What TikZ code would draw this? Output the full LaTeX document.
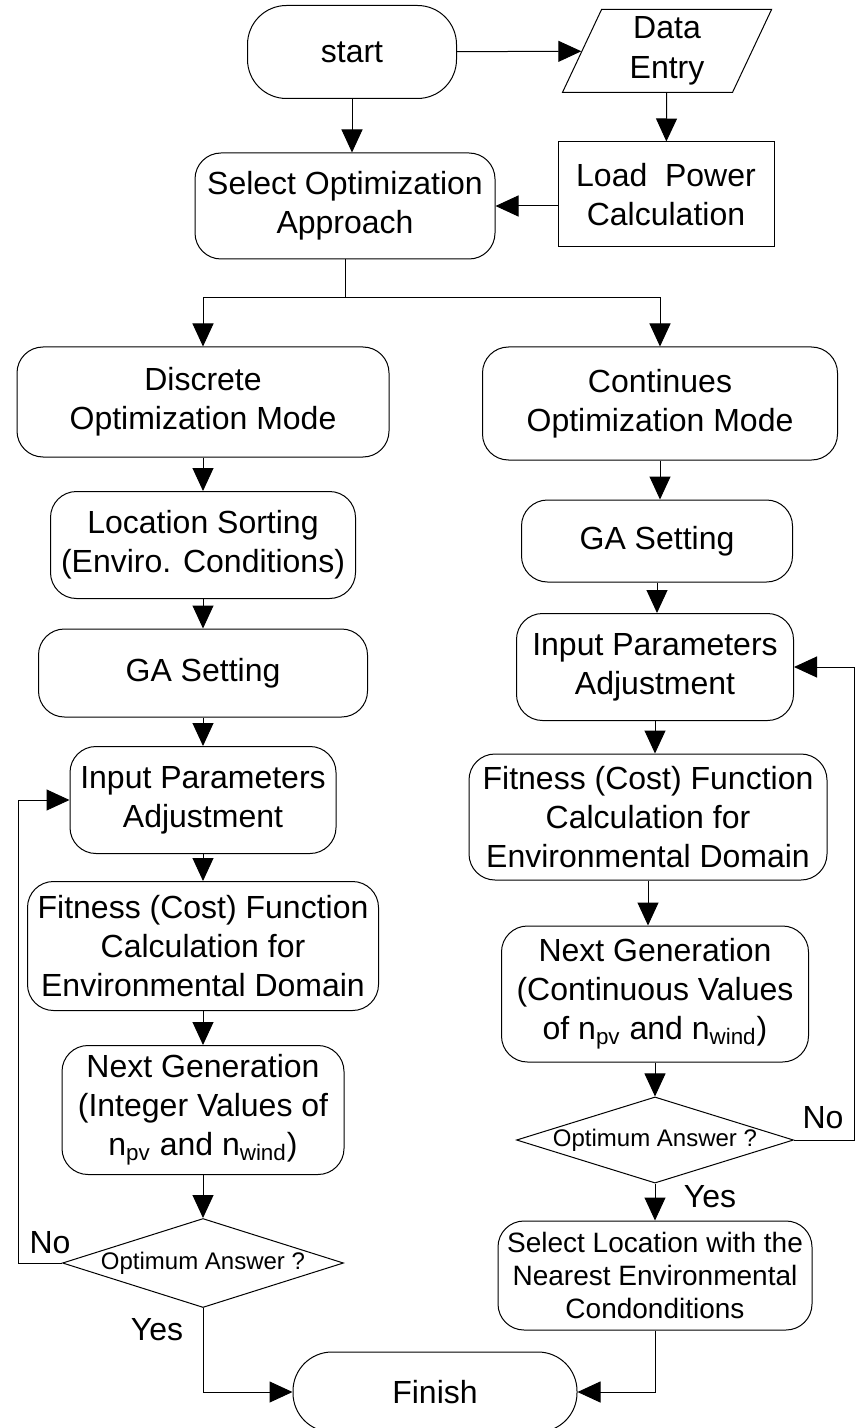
\documentclass[tikz,border=0pt]{standalone}
\usepackage{fontspec}
\setmainfont{Liberation Sans}
\usetikzlibrary{shapes.geometric,arrows.meta}

\begin{document}
\begin{tikzpicture}[x=0.5pt,y=-0.5pt,
    font=\fontsize{16}{19.5}\selectfont,
    every node/.style={align=center,inner sep=0pt},
    proc/.style={draw,line width=0.5pt,rounded corners=13pt},
    term/.style={draw,line width=0.5pt,rounded corners=19.5pt},
    decide/.style={draw,line width=0.5pt,diamond,aspect=3.2,font=\fontsize{12}{14}\selectfont},
    arr/.style={-{Triangle[length=11.5pt,width=10.5pt]},line width=0.5pt}]
    \useasboundingbox (0,0) rectangle (861,1428);

    % Awal dan data masukan
    \node[term,minimum width=104.5pt,minimum height=46.5pt] (start) at (352,52) {start};
    \node[draw,line width=0.5pt,trapezium,trapezium left angle=72,trapezium right angle=108,
      trapezium stretches=true,minimum width=105pt,minimum height=41.5pt,
      font=\fontsize{16}{20}\selectfont] (data) at (667,51) {Data\\Entry};
    \node[draw,line width=0.5pt,minimum width=108pt,minimum height=52.5pt] (load) at (666,194.5) {Load\ \ Power\\Calculation};
    \node[proc,minimum width=150pt,minimum height=53pt] (select) at (345,206) {Select Optimization\\Approach};
    \coordinate (fork) at (345,298);

    % Cabang kiri: mode diskrit
    \node[proc,minimum width=186pt,minimum height=55pt] (discrete) at (203,402) {Discrete\\Optimization Mode};
    \node[proc,minimum width=152.5pt,minimum height=53.5pt] (sortloc) at (203,545) {Location Sorting\\(Enviro. Conditions)};
    \node[proc,minimum width=164.5pt,minimum height=44pt] (gaL) at (203,673) {GA Setting};
    \node[proc,minimum width=133pt,minimum height=53.5pt] (inputL) at (203,800) {Input Parameters\\Adjustment};
    \node[proc,minimum width=175.5pt,minimum height=64.5pt] (fitL) at (203,946) {Fitness (Cost) Function\\Calculation for\\Environmental Domain};
    \node[proc,minimum width=141pt,minimum height=64.5pt] (nextL) at (203,1110) {Next Generation\\(Integer Values of\\n\textsubscript{pv} and n\textsubscript{wind})};
    \node[decide,minimum width=140.5pt,minimum height=44.5pt] (optL) at (203,1263) {Optimum Answer ?};
    \node (noL) at (50,1243) {No};
    \node (yesL) at (157,1330) {Yes};

    % Cabang kanan: mode kontinu
    \node[proc,minimum width=177.5pt,minimum height=56.5pt] (continues) at (660,403.5) {Continues\\Optimization Mode};
    \node[proc,minimum width=135.5pt,minimum height=41pt] (gaR) at (657,541) {GA Setting};
    \node[proc,minimum width=138.5pt,minimum height=53.5pt] (inputR) at (655,667) {Input Parameters\\Adjustment};
    \node[proc,minimum width=179pt,minimum height=63pt] (fitR) at (648,817) {Fitness (Cost) Function\\Calculation for\\Environmental Domain};
    \node[proc,minimum width=153.5pt,minimum height=68pt] (nextR) at (655,994) {Next Generation\\(Continuous Values\\of n\textsubscript{pv} and n\textsubscript{wind})};
    \node[decide,minimum width=138.5pt,minimum height=41pt] (optR) at (655,1140) {Optimum Answer ?};
    \node (noR) at (823,1118) {No};
    \node (yesR) at (710,1197) {Yes};
    \node[proc,minimum width=157pt,minimum height=54.5pt,font=\fontsize{14}{16.5}\selectfont] (selloc) at (655,1275.5) {Select Location with the\\Nearest Environmental\\Condonditions};

    % Selesai
    \node[term,minimum width=142pt,minimum height=40pt] (finish) at (435,1392) {Finish};

    % Panah
    \draw[arr] (start) -- (data);
    \draw[arr] (start.south) -- (start.south |- select.north);
    \draw[arr] (data) -- (load);
    \draw[arr] (load.west |- select.east) -- (select.east);
    \draw (select) -- (fork);
    \draw[arr] (fork) -| (discrete);
    \draw[arr] (fork) -| (continues);

    \draw[arr] (discrete) -- (sortloc);
    \draw[arr] (sortloc) -- (gaL);
    \draw[arr] (gaL) -- (inputL);
    \draw[arr] (inputL) -- (fitL);
    \draw[arr] (fitL) -- (nextL);
    \draw[arr] (nextL) -- (optL);
    \draw[arr] (optL.west) -- ++(-44,0) |- (inputL.west);
    \draw[arr] (optL.south) |- (finish.west);

    \draw[arr] (continues.south) -- (continues.south |- gaR.north);
    \draw[arr] (gaR.south) -- (gaR.south |- inputR.north);
    \draw[arr] (inputR.south) -- (inputR.south |- fitR.north);
    \draw[arr] (fitR.south) -- (fitR.south |- nextR.north);
    \draw[arr] (nextR) -- (optR);
    \draw[arr] (optR.east) -- ++(60,0) |- (inputR.east);
    \draw[arr] (optR) -- (selloc);
    \draw[arr] (selloc.south) |- (finish.east);
\end{tikzpicture}
\end{document}
